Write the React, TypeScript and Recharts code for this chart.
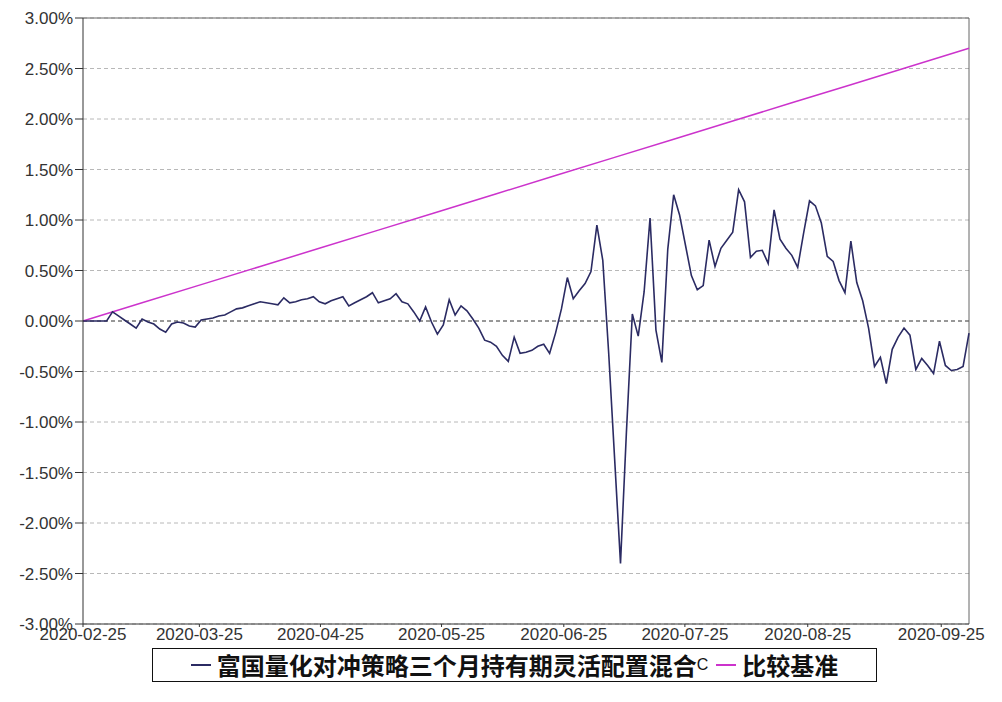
import { CartesianGrid, Line, LineChart, ReferenceLine, XAxis, YAxis } from "recharts";

// 基金累计净值增长率（%），按交易日从 2020-02-25 起
const fundValues = [
  0.0, 0.0, 0.0, 0.0, 0.0, 0.09, 0.05, 0.01, -0.03, -0.07,
  0.02, -0.01, -0.03, -0.08, -0.11, -0.03, -0.01, -0.02, -0.05, -0.06,
  0.01, 0.02, 0.03, 0.05, 0.06, 0.09, 0.12, 0.13, 0.15, 0.17,
  0.19, 0.18, 0.17, 0.16, 0.23, 0.18, 0.19, 0.21, 0.22, 0.24,
  0.19, 0.17, 0.2, 0.22, 0.24, 0.15, 0.18, 0.21, 0.24, 0.28,
  0.18, 0.2, 0.22, 0.27, 0.19, 0.17, 0.09, 0.0, 0.14, -0.01,
  -0.13, -0.04, 0.21, 0.06, 0.15, 0.1, 0.02, -0.07, -0.19, -0.21,
  -0.25, -0.34, -0.4, -0.16, -0.32, -0.31, -0.29, -0.25, -0.23, -0.32,
  -0.12, 0.12, 0.43, 0.22, 0.3, 0.37, 0.49, 0.95, 0.6, -0.32,
  -1.36, -2.4, -1.1, 0.07, -0.15, 0.29, 1.02, -0.09, -0.41, 0.71,
  1.25, 1.05, 0.75, 0.45, 0.31, 0.35, 0.8, 0.54, 0.72, 0.8,
  0.88, 1.3, 1.18, 0.63, 0.69, 0.7, 0.57, 1.1, 0.81, 0.72,
  0.65, 0.53, 0.87, 1.19, 1.14, 0.97, 0.64, 0.59, 0.4, 0.28,
  0.79, 0.38, 0.2, -0.07, -0.45, -0.36, -0.62, -0.28, -0.16, -0.07,
  -0.14, -0.48, -0.37, -0.44, -0.52, -0.2, -0.44, -0.49, -0.48, -0.45,
  -0.12,
];

// 比较基准（%），取若干交易日读数
const benchDays = [0, 10, 20, 30, 40, 50, 60, 70, 80, 90, 100, 110, 120, 130, 140, 150];
const benchValues = [0, 0.18, 0.36, 0.54, 0.72, 0.9, 1.08, 1.26, 1.44, 1.62, 1.8, 1.98, 2.16, 2.34, 2.52, 2.7];

const dateLabels = [
  "2020-02-25",
  "2020-03-25",
  "2020-04-25",
  "2020-05-25",
  "2020-06-25",
  "2020-07-25",
  "2020-08-25",
  "2020-09-25",
];
const dateTickDays = [0, 19.7, 40.2, 60.7, 81.4, 101.9, 122.7, 145.3];
const yTicks = [-3, -2.5, -2, -1.5, -1, -0.5, 0, 0.5, 1, 1.5, 2, 2.5, 3];

const data = fundValues.map((v, i) => {
  const b = benchDays.indexOf(i);
  return { day: i, fund: v, bench: b >= 0 ? benchValues[b] : null };
});

const lastDay = fundValues.length - 1;
const axisFont = { fontFamily: "'Liberation Sans', Arial, sans-serif", fontSize: 17, fill: "#333" };

export default function App() {
  return (
    <div style={{ position: "absolute", left: 0, top: 0, width: 1002, height: 702, background: "#fff" }}>
      <LineChart width={1002} height={702} data={data} margin={{ top: 18, right: 33, left: 0, bottom: 60 }}>
        <CartesianGrid horizontal vertical={false} stroke="#b8b8b8" strokeDasharray="4 3" />
        <XAxis
          dataKey="day"
          type="number"
          domain={[0, lastDay]}
          ticks={dateTickDays}
          tickFormatter={(v) => dateLabels[dateTickDays.indexOf(v)] ?? ""}
          interval={0}
          height={18}
          tickSize={3}
          tickMargin={1}
          tick={axisFont}
          stroke="#333"
          allowDecimals
        />
        <YAxis
          domain={[-3, 3]}
          ticks={yTicks}
          width={83}
          tickSize={8}
          tickMargin={2}
          tick={axisFont}
          stroke="#333"
          tickFormatter={(v) => v.toFixed(2) + "%"}
        />
        <ReferenceLine y={0} stroke="#555" strokeDasharray="4 3" />
        <ReferenceLine y={3} stroke="#666" />
        <ReferenceLine x={lastDay} stroke="#666" />
        <Line
          dataKey="bench"
          stroke="#cc33cc"
          strokeWidth={1.5}
          dot={false}
          connectNulls
          isAnimationActive={false}
        />
        <Line dataKey="fund" stroke="#2b2b63" strokeWidth={1.6} dot={false} isAnimationActive={false} />
      </LineChart>
      <div
        style={{
          position: "absolute",
          left: 152,
          top: 648,
          width: 725,
          height: 34,
          boxSizing: "border-box",
          border: "1.5px solid #111",
          display: "flex",
          alignItems: "center",
          justifyContent: "center",
          fontFamily: "'Noto Sans CJK SC', sans-serif",
          fontSize: 24,
          lineHeight: "30px",
          fontWeight: 700,
          color: "#111",
          whiteSpace: "nowrap",
        }}
      >
        <span style={{ display: "inline-block", width: 20, height: 2, background: "#2b2b63", marginRight: 6 }} />
        <span>富国量化对冲策略三个月持有期灵活配置混合</span>
        <span style={{ fontSize: 16, fontWeight: 400, fontFamily: "'Liberation Sans', sans-serif" }}>C</span>
        <span style={{ display: "inline-block", width: 20, height: 2, background: "#cc33cc", margin: "0 6px 0 8px" }} />
        <span>比较基准</span>
      </div>
    </div>
  );
}
